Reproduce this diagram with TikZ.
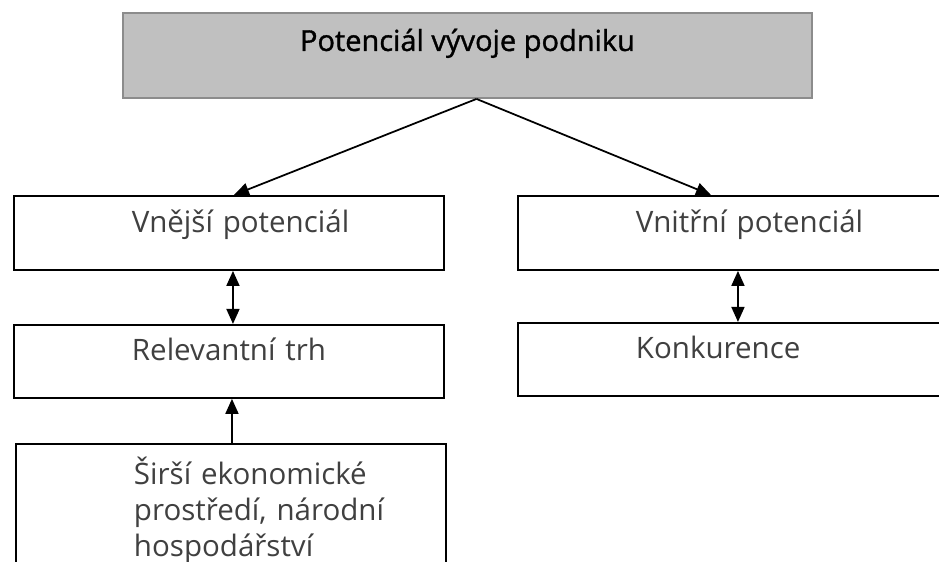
\documentclass[tikz,border=0pt]{standalone}
\usepackage{fontspec}
\setmainfont{Open Sans}
\newfontfamily\titlefont[FakeBold=1.2]{Open Sans}
\usetikzlibrary{positioning,arrows.meta}
\definecolor{titlefill}{HTML}{C0C0C0}
\definecolor{titleline}{HTML}{8C8C8C}
\definecolor{boxtext}{HTML}{404040}
\tikzset{
	potbox/.style={draw=black, line width=1.1pt, rectangle, inner sep=0pt,
		text width=8.6cm, align=left, text=boxtext,
		font=\fontsize{16.8}{20.5}\selectfont,
		execute at begin node={\leftskip=2.36cm},
		text height=0.74cm, text depth=0.74cm},
	titlebox/.style={draw=titleline, fill=titlefill, line width=1.1pt, rectangle, inner sep=0pt,
		minimum width=13.78cm, font=\titlefont\fontsize{16.5}{19}\selectfont,
		text height=0.76cm, text depth=0.94cm},
}
\begin{document}
\begin{tikzpicture}[>={Triangle[length=0.3cm,width=0.26cm]}, line width=1pt]
		\clip (0,0) rectangle (18.78,-11.24);
		\node[titlebox, anchor=north] (T) at (9.35,-0.24) {Potenciál vývoje podniku};
		\node[potbox, anchor=north west] (V1) at (0.26,-3.9) {Vnější potenciál};
		\node[potbox, below=1.06cm of V1, text height=0.72cm] (V2) {Relevantní trh};
		\node[potbox, below=0.88cm of V2, xshift=0.04cm, text height=0.82cm, text depth=3cm] (V3) {Širší ekonomické\\prostředí, národní\\hospodářství};
		\node[potbox, anchor=north west] (N1) at (10.34,-3.9) {Vnitřní potenciál};
		\node[potbox, below=1.02cm of N1, text height=0.72cm] (N2) {Konkurence};
		\begin{scope}
			\coordinate (apex) at ([xshift=0.18cm]T.south);
			\draw[->] (apex) -- ([xshift=0.1cm]V1.north);
			\draw[->] (apex) -- ([xshift=-0.44cm]N1.north);
			\draw[<->] ([xshift=0.08cm]V1.south) -- ([xshift=0.08cm]V2.north);
			\draw[->] ([xshift=0.02cm]V3.north) -- ([xshift=0.06cm]V2.south);
			\draw[<->] ([xshift=0.1cm]N1.south) -- ([xshift=0.1cm]N2.north);
		\end{scope}
	\end{tikzpicture}
\end{document}
